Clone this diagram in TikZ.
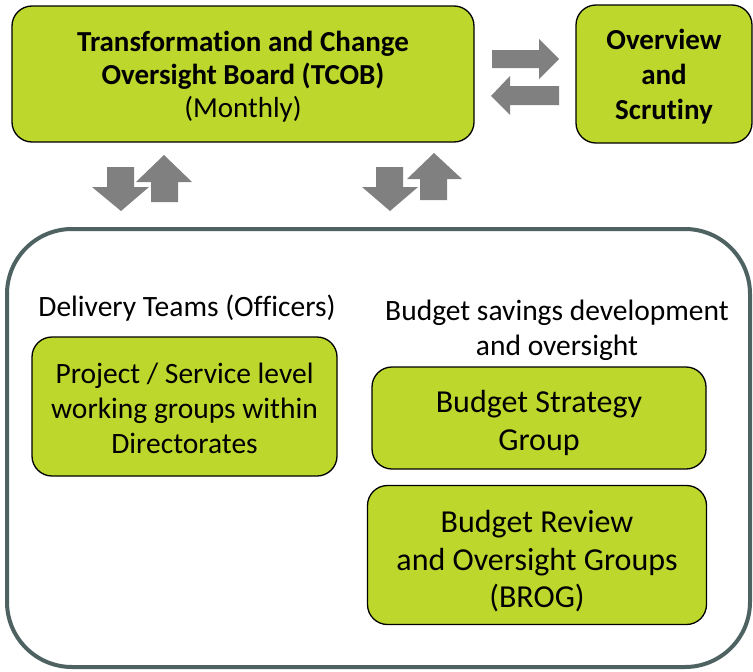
\documentclass[tikz,border=0pt]{standalone}
\usepackage{fontspec}
\setmainfont[Ligatures=NoCommon]{Carlito}
\definecolor{boxgreen}{RGB}{190,215,45}
\definecolor{arrowgray}{RGB}{128,128,128}
\definecolor{framegray}{RGB}{79,98,98}
\tikzset{
  greenbox/.style={draw=black, line width=1.3pt, fill=boxgreen, rounded corners=20pt, inner sep=0pt},
  boxtext/.style={align=center, inner sep=0pt},
  blockarrow/.style={fill=arrowgray, draw=none},
  fbig/.style={font=\fontsize{29}{33}\selectfont},
  fos/.style={font=\fontsize{29}{35}\selectfont},
  fmid/.style={font=\fontsize{29.5}{35}\selectfont},
  flarge/.style={font=\fontsize{32}{37.5}\selectfont},
}
\begin{document}
\begin{tikzpicture}[x=1pt,y=-1pt]
\useasboundingbox (0,0) rectangle (753,672);
% container
\draw[framegray, line width=4pt, rounded corners=65pt] (7,229) rectangle (750,667);
% top boxes
\node[greenbox, minimum width=462pt, minimum height=136pt] (tcob) at (243,74) {};
\node[boxtext, fbig] (tcobtext) at ([yshift=-2.5pt]tcob.center)
  {\textbf{Transformation and Change}\\\textbf{Oversight Board (TCOB)}\\(Monthly)};
\node[greenbox, minimum width=176pt, minimum height=138pt] (os) at (664,74) {};
\node[boxtext, fos] (ostext) at ([yshift=-3pt]os.center)
  {\textbf{Overview}\\\textbf{and}\\\textbf{Scrutiny}};
% horizontal arrows
\fill[blockarrow] (492,50) -- (539,50) -- (539,39) -- (559,59) -- (539,79) -- (539,68) -- (492,68) -- cycle;
\fill[blockarrow] (559,86) -- (510,86) -- (510,76) -- (491,96) -- (510,115) -- (510,105) -- (559,105) -- cycle;
% vertical arrows left pair
\fill[blockarrow] (107,167) -- (134,167) -- (134,187) -- (149,187) -- (121,211) -- (92,187) -- (107,187) -- cycle;
\fill[blockarrow] (151,202) -- (178,202) -- (178,182) -- (192,182) -- (164,155) -- (136,182) -- (151,182) -- cycle;
% vertical arrows right pair
\fill[blockarrow] (376,167) -- (403,167) -- (403,187) -- (418,187) -- (390,211) -- (362,187) -- (376,187) -- cycle;
\fill[blockarrow] (420,200) -- (447,200) -- (447,179) -- (462,179) -- (434,153) -- (407,179) -- (420,179) -- cycle;
% labels
\node[fmid, align=center] (dlabel) at (187,308) {Delivery Teams (Officers)};
\node[fmid, align=center] (blabel) at (557,330) {Budget savings development\\and oversight};
% inner boxes
\node[greenbox, minimum width=305pt, minimum height=139pt] (proj) at (184.5,406.5) {};
\node[boxtext, fmid] (projtext) at ([yshift=-1.5pt]proj.center)
  {Project / Service level\\working groups within\\Directorates};
\node[greenbox, minimum width=334pt, minimum height=102pt] (bsg) at (539,418) {};
\node[boxtext, flarge] (bsgtext) at ([yshift=-5pt]bsg.center)
  {Budget Strategy\\Group};
\node[greenbox, minimum width=339pt, minimum height=139pt] (brog) at (537,555) {};
\node[boxtext, flarge] (brogtext) at ([yshift=-6.5pt]brog.center)
  {Budget Review\\and Oversight Groups\\(BROG)};
\end{tikzpicture}
\end{document}
